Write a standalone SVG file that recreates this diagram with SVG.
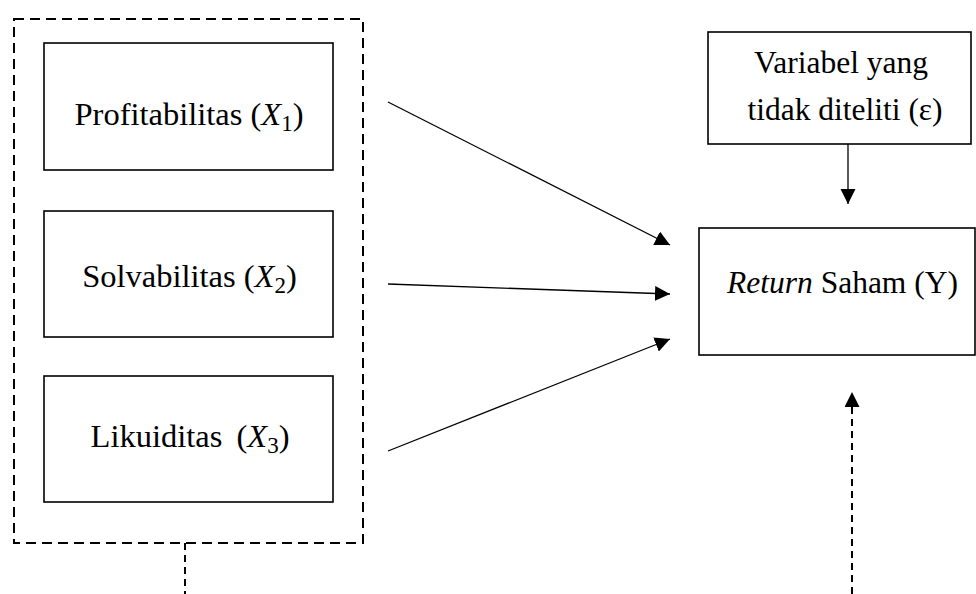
<svg xmlns="http://www.w3.org/2000/svg" width="976" height="594" viewBox="0 0 976 594">
<style>
  .box { fill: #fff; stroke: #000; stroke-width: 1.6; }
  .group { fill: none; stroke: #000; stroke-width: 2; stroke-dasharray: 10 6; }
  .t { font-family: "Liberation Serif", "Times New Roman", serif; font-size: 31.5px; fill: #000; }
  .tl { font-size: 32.5px; }
  .conn { stroke: #000; stroke-width: 1.3; fill: none; }
  .dash { stroke: #000; stroke-width: 2; fill: none; stroke-dasharray: 7 5; }
  .i { font-style: italic; }
  .sub { font-size: 23px; }
</style>
<defs>
  <marker id="ah" markerUnits="userSpaceOnUse" markerWidth="16" markerHeight="16" refX="15" refY="7.5" orient="auto">
    <path d="M0,0 L15,7.5 L0,15 z" fill="#000"/>
  </marker>
</defs>
<rect width="976" height="594" fill="#fff"/>

<g id="independent-group">
  <rect class="group" x="14" y="19" width="349" height="524"/>
</g>

<g id="profitabilitas">
  <rect class="box" x="44" y="43" width="289" height="127"/>
  <text class="t tl" x="189" y="125" text-anchor="middle">Profitabilitas (<tspan class="i">X</tspan><tspan class="sub" dy="6">1</tspan><tspan dy="-6">)</tspan></text>
</g>

<g id="solvabilitas">
  <rect class="box" x="44" y="211" width="289" height="126"/>
  <text class="t tl" x="189.5" y="287" text-anchor="middle">Solvabilitas (<tspan class="i">X</tspan><tspan class="sub" dy="6">2</tspan><tspan dy="-6">)</tspan></text>
</g>

<g id="likuiditas">
  <rect class="box" x="44" y="376" width="289" height="126"/>
  <text class="t tl" x="190" y="447" text-anchor="middle">Likuiditas <tspan dx="6">(</tspan><tspan class="i">X</tspan><tspan class="sub" dy="6">3</tspan><tspan dy="-6">)</tspan></text>
</g>

<g id="epsilon">
  <rect class="box" x="708" y="32" width="263" height="112"/>
  <text class="t" x="841" y="73" text-anchor="middle">Variabel yang</text>
  <text class="t" x="845" y="120" text-anchor="middle">tidak diteliti (ε)</text>
</g>

<g id="return-saham">
  <rect class="box" x="699" y="228" width="276" height="127"/>
  <text class="t" x="842.5" y="293" text-anchor="middle"><tspan class="i">Return</tspan> Saham (Y)</text>
</g>

<g id="connectors">
  <line class="conn" x1="388" y1="102" x2="670" y2="245" marker-end="url(#ah)"/>
  <line class="conn" x1="388" y1="284" x2="670" y2="294" marker-end="url(#ah)"/>
  <line class="conn" x1="388" y1="451" x2="670" y2="339" marker-end="url(#ah)"/>
  <line class="conn" x1="848" y1="144" x2="848" y2="204" marker-end="url(#ah)"/>
  <line class="dash" x1="185" y1="543" x2="185" y2="594"/>
  <line class="dash" x1="852" y1="594" x2="852" y2="392" marker-end="url(#ah)"/>
</g>
</svg>
